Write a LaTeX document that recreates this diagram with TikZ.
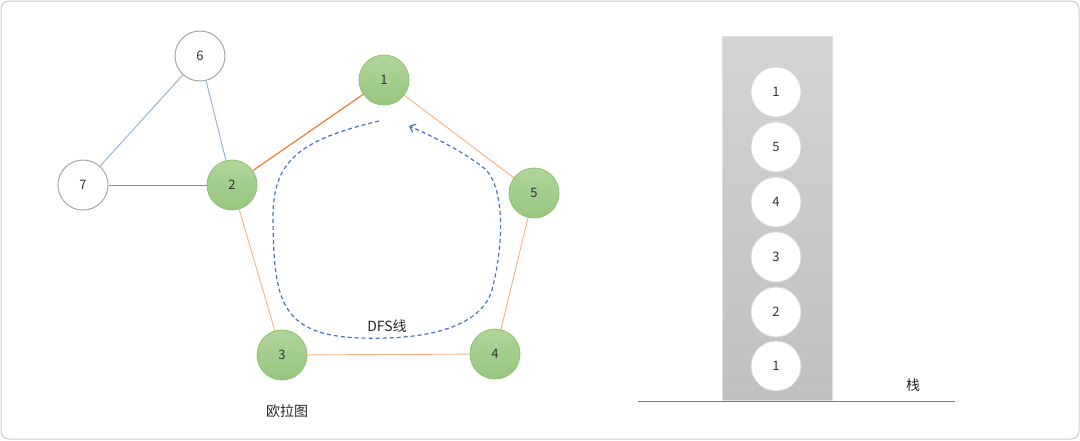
\documentclass[tikz,border=0pt]{standalone}
\usepackage{fontspec}
\setmainfont{Noto Sans CJK SC}
\usetikzlibrary{arrows.meta,shadings}
\definecolor{gtop}{HTML}{B0D59A}
\definecolor{gbot}{HTML}{98C67E}
\definecolor{gline}{HTML}{8DC06F}
\definecolor{orl}{HTML}{F4B183}
\definecolor{ord}{HTML}{ED7D31}
\definecolor{bll}{HTML}{8FAADC}
\definecolor{bbase}{HTML}{4F7FD6}
\definecolor{bld}{HTML}{4472C4}
\definecolor{cgray}{HTML}{A6A6A6}
\tikzset{
  gnode/.style={circle, minimum size=50pt, inner sep=0pt, draw=gline, line width=0.8pt, top color=gtop, bottom color=gbot, font=\fontsize{13}{15}\selectfont, text=black!80},
  wnode/.style={circle, minimum size=50pt, inner sep=0pt, draw=cgray, line width=1pt, fill=white, font=\fontsize{13}{15}\selectfont, text=black!80},
  snode/.style={circle, minimum size=50pt, inner sep=0pt, draw=black!15, line width=0.8pt, fill=white, font=\fontsize{13}{15}\selectfont, text=black!80},
  oedge/.style={draw=orl, line width=0.9pt},
  lbl/.style={font=\fontsize{14}{16}\selectfont, text=black!85}
}
\begin{document}
\begin{tikzpicture}[x=1pt,y=-1pt]
\useasboundingbox (0,0) rectangle (1080,440);
\draw[black!20, line width=1pt, rounded corners=8pt] (1,1) rectangle (1079,439);
% stack
\shade[top color=black!17, bottom color=black!25] (722,36) rectangle (832,400);
\draw[black!12, line width=0.5pt] (722,36) rectangle (832,400);
\coordinate (bl) at (638,401.5);
\coordinate (br) at (955,401.5);
\draw[bbase, line width=1.1pt] (bl) -- (br);
\node[snode] (s1) at (776,92) {1};
\node[snode] (s2) at (776,147) {5};
\node[snode] (s3) at (776,202) {4};
\node[snode] (s4) at (776,257) {3};
\node[snode] (s5) at (776,312) {2};
\node[snode] (s6) at (776,366) {1};
\node[lbl] (zhan) at (913,385) {栈};
% graph nodes
\node[wnode] (n6) at (200,56) {6};
\node[wnode] (n7) at (83,185) {7};
\node[gnode] (n2) at (232,185) {2};
\node[gnode] (n1) at (384,80) {1};
\node[gnode] (n5) at (534,193) {5};
\node[gnode] (n4) at (495,354) {4};
\node[gnode] (n3) at (282,355) {3};
\draw[bll, line width=0.9pt] (n6) -- (n7);
\draw[bll, line width=0.9pt] (n6) -- (n2);
\draw[black!45, line width=0.8pt] (n7) -- (n2);
\draw[ord, line width=1.2pt] (n2) -- (n1);
\draw[oedge] (n1) -- (n5);
\draw[oedge] (n5) -- (n4);
\draw[oedge] (n4) -- (n3);
\draw[oedge] (n3) -- (n2);
% DFS line
\coordinate (ds) at (379,121);
\coordinate (de) at (409,126);
\draw[bld, line width=1.2pt, dash pattern=on 4pt off 3pt, -{Straight Barb[length=5pt,width=9pt]}]
  (ds) .. controls (300,140) and (272,160) .. (273,220)
  .. controls (274,300) and (280,335) .. (360,338)
  .. controls (420,340) and (480,330) .. (492,290)
  .. controls (505,240) and (505,180) .. (480,165)
  .. controls (460,150) and (430,135) .. (de);
\node[lbl] (dfs) at (387,326) {DFS线};
\node[lbl] (euler) at (287,411) {欧拉图};
\end{tikzpicture}
\end{document}
